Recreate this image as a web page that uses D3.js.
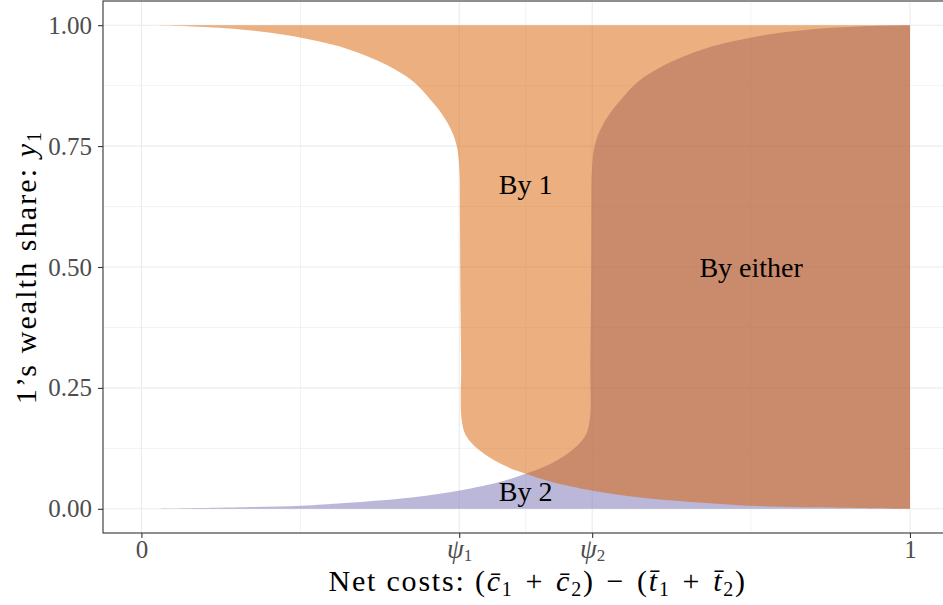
<!DOCTYPE html>
<html>
<head>
<meta charset="utf-8">
<script src="https://cdn.jsdelivr.net/npm/d3@7"></script>
<style>
  html, body { margin: 0; padding: 0; background: #ffffff; }
  svg { display: block; }
  text { font-family: "Liberation Serif", "Times New Roman", serif; }
</style>
</head>
<body>
<svg id="chart" width="943" height="605"></svg>
<script>
const SERIF = '"Liberation Serif", "Times New Roman", serif';

// Cost thresholds marked on the horizontal axis
const psi1 = 0.4135;
const psi2 = 0.5865;

const xTickValues = [0, psi1, psi2, 1];
const xTickSymbols = ["0", "ψ", "ψ", "1"];
const xTickSubscripts = ["", "1", "2", ""];
const xMinorValues = [0.207, 0.5, 0.793];

const yTickValues = [0, 0.25, 0.5, 0.75, 1];
const yTickLabels = ["0.00", "0.25", "0.50", "0.75", "1.00"];
const yMinorValues = [0.125, 0.375, 0.625, 0.875];

// Wealth share of agent 1 (y1) at each boundary point
const shareLevels = [0, 0.0035, 0.0062, 0.0118, 0.0233, 0.0378, 0.0564, 0.0723, 0.0874,
  0.115, 0.149, 0.184, 0.30, 0.45, 0.60, 0.70, 0.745, 0.78, 0.814, 0.849, 0.883, 0.917,
  0.952, 0.979, 0.993, 0.998, 1];

// Net cost above which the project is undertaken by agent 1
const by1Threshold = [1, 0.8656, 0.7918, 0.7355, 0.6487, 0.5858, 0.5315, 0.5003, 0.4752,
  0.4448, 0.4232, 0.4167, 0.4160, 0.4150, 0.4145, 0.4138, 0.411, 0.404, 0.392, 0.3745, 0.354,
  0.320, 0.266, 0.190, 0.115, 0.06, 0];

// Net cost above which the project is undertaken by agent 2
const by2Threshold = [0, 0.1344, 0.2082, 0.2645, 0.3513, 0.4142, 0.4685, 0.4997, 0.5248,
  0.5552, 0.5768, 0.5833, 0.5840, 0.5850, 0.5855, 0.5862, 0.589, 0.596, 0.608, 0.6255, 0.646,
  0.680, 0.734, 0.810, 0.885, 0.94, 1];

const regionColors = { by1: "#D95F02", by2: "#7570B3" };

const regionLabels = ["By 1", "By 2", "By either"];
const regionLabelCost = [0.5, 0.5, 0.7933];
const regionLabelShare = [0.67, 0.035, 0.5];

const svg = d3.select("#chart");
const W = 943, H = 605;

const x = d3.scaleLinear().domain([-0.05, 1.05]).range([103, 948.4]);
const y = d3.scaleLinear().domain([-0.05, 1.05]).range([533, 1]);

const [px0, px1] = x.range();
const [py0, py1] = y.range();

svg.append("rect").attr("width", W).attr("height", H).attr("fill", "#ffffff");

// Grid
const grid = svg.append("g");
grid.selectAll("line.xminor").data(xMinorValues).join("line")
  .attr("x1", d => x(d)).attr("x2", d => x(d)).attr("y1", py1).attr("y2", py0)
  .attr("stroke", "#EBEBEB").attr("stroke-width", 0.6);
grid.selectAll("line.yminor").data(yMinorValues).join("line")
  .attr("y1", d => y(d)).attr("y2", d => y(d)).attr("x1", px0).attr("x2", px1)
  .attr("stroke", "#EBEBEB").attr("stroke-width", 0.6);
grid.selectAll("line.xmajor").data(xTickValues).join("line")
  .attr("x1", d => x(d)).attr("x2", d => x(d)).attr("y1", py1).attr("y2", py0)
  .attr("stroke", "#EBEBEB").attr("stroke-width", 1.1);
grid.selectAll("line.ymajor").data(yTickValues).join("line")
  .attr("y1", d => y(d)).attr("y2", d => y(d)).attr("x1", px0).attr("x2", px1)
  .attr("stroke", "#EBEBEB").attr("stroke-width", 1.1);

// Regions: everything to the right of each threshold curve
const area = d3.area()
  .curve(d3.curveCatmullRom.alpha(0.5))
  .y(d => y(d.share))
  .x0(d => x(d.cost))
  .x1(() => x(1));

const by1Data = shareLevels.map((s, i) => ({ share: s, cost: by1Threshold[i] }));
const by2Data = shareLevels.map((s, i) => ({ share: s, cost: by2Threshold[i] }));

svg.append("path").datum(by2Data)
  .attr("d", area).attr("fill", regionColors.by2).attr("fill-opacity", 0.5);
svg.append("path").datum(by1Data)
  .attr("d", area).attr("fill", regionColors.by1).attr("fill-opacity", 0.5);

// Region annotations
svg.selectAll("text.region").data(regionLabels).join("text")
  .attr("class", "region")
  .attr("x", (d, i) => x(regionLabelCost[i]))
  .attr("y", (d, i) => y(regionLabelShare[i]))
  .attr("dy", "0.34em")
  .attr("text-anchor", "middle")
  .attr("font-family", SERIF)
  .attr("font-size", 28)
  .attr("fill", "#000000")
  .text(d => d);

// Panel border
svg.append("rect")
  .attr("x", px0).attr("y", py1)
  .attr("width", px1 - px0).attr("height", py0 - py1)
  .attr("fill", "none").attr("stroke", "#333333").attr("stroke-width", 1.1);

// Axes
const xAxis = svg.append("g")
  .attr("transform", `translate(0,${py0})`)
  .call(d3.axisBottom(x).tickValues(xTickValues).tickSize(5).tickPadding(2).tickFormat(""));
xAxis.attr("font-family", SERIF);
xAxis.select(".domain").remove();
xAxis.selectAll(".tick line").attr("stroke", "#333333").attr("stroke-width", 1.1);
xAxis.selectAll(".tick text")
  .attr("font-size", 25).attr("fill", "#4D4D4D").attr("font-family", SERIF)
  .each(function (d, i) {
    const t = d3.select(this);
    t.append("tspan")
      .attr("font-style", xTickSubscripts[i] ? "italic" : null)
      .attr("font-size", xTickSubscripts[i] ? 27 : null)
      .text(xTickSymbols[i]);
    if (xTickSubscripts[i]) {
      t.append("tspan").attr("font-size", 17).attr("dy", 3).text(xTickSubscripts[i]);
    }
  });

const yAxis = svg.append("g")
  .attr("transform", `translate(${px0},0)`)
  .call(d3.axisLeft(y).tickValues(yTickValues).tickSize(5).tickPadding(6)
    .tickFormat((d, i) => yTickLabels[i]));
yAxis.attr("font-family", SERIF);
yAxis.select(".domain").remove();
yAxis.selectAll(".tick line").attr("stroke", "#333333").attr("stroke-width", 1.1);
yAxis.selectAll(".tick text")
  .attr("font-size", 25).attr("fill", "#4D4D4D").attr("font-family", SERIF);

// Axis titles
const xTitle = svg.append("text")
  .attr("x", (px0 + px1) / 2 + 12).attr("y", 591)
  .attr("text-anchor", "middle").attr("font-family", SERIF).attr("font-size", 30)
  .attr("letter-spacing", 1.8).attr("fill", "#000000");
xTitle.append("tspan").text("Net costs:  (");
xTitle.append("tspan").attr("font-style", "italic").text("c\u0304");
xTitle.append("tspan").attr("font-size", 20).attr("dy", 5).text("1");
xTitle.append("tspan").attr("dy", -5).text("\u2004+\u2004");
xTitle.append("tspan").attr("font-style", "italic").text("c\u0304");
xTitle.append("tspan").attr("font-size", 20).attr("dy", 5).text("2");
xTitle.append("tspan").attr("dy", -5).text(")\u2004\u2212\u2004(");
xTitle.append("tspan").attr("font-style", "italic").text("t\u0304");
xTitle.append("tspan").attr("font-size", 20).attr("dy", 5).text("1");
xTitle.append("tspan").attr("dy", -5).text("\u2004+\u2004");
xTitle.append("tspan").attr("font-style", "italic").text("t\u0304");
xTitle.append("tspan").attr("font-size", 20).attr("dy", 5).text("2");
xTitle.append("tspan").attr("dy", -5).text(")");

const yTitle = svg.append("text")
  .attr("transform", `translate(36,${(py0 + py1) / 2}) rotate(-90)`)
  .attr("text-anchor", "middle").attr("font-family", SERIF).attr("font-size", 30)
  .attr("letter-spacing", 2.1).attr("fill", "#000000");
yTitle.append("tspan").text("1\u2019s wealth share:  ");
yTitle.append("tspan").attr("font-style", "italic").text("y");
yTitle.append("tspan").attr("font-size", 20).attr("dy", 5).text("1");
</script>
</body>
</html>
